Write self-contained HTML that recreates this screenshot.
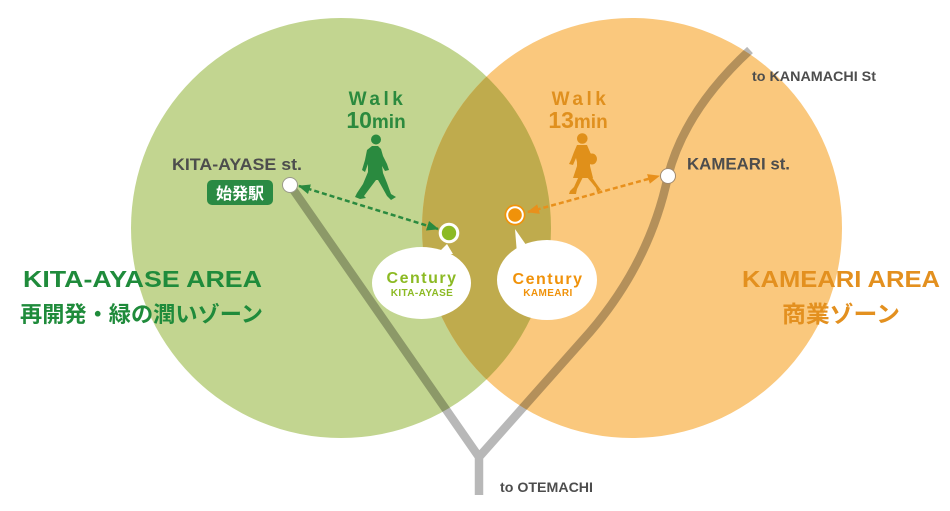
<!DOCTYPE html>
<html>
<head>
<meta charset="utf-8">
<style>
  html,body{margin:0;padding:0;background:#fff;}
  body{width:950px;height:511px;overflow:hidden;}
  svg{display:block;}
  .lat{font-family:"Liberation Sans",Arial,sans-serif;font-weight:bold;}
  .jp{font-family:"Liberation Sans","Noto Sans CJK JP",sans-serif;font-weight:bold;}
</style>
</head>
<body>
<svg width="950" height="511" viewBox="0 0 950 511" xmlns="http://www.w3.org/2000/svg">
  <defs>
    <clipPath id="cg"><circle cx="341" cy="228" r="210"/></clipPath>
    <marker id="ag" viewBox="0 0 12 10" refX="11" refY="5" markerUnits="userSpaceOnUse" markerWidth="12" markerHeight="10" orient="auto-start-reverse">
      <path d="M0,0 L12,5 L0,10 Z" fill="#2a8a3f"/>
    </marker>
    <marker id="ao" viewBox="0 0 12 10" refX="11" refY="5" markerUnits="userSpaceOnUse" markerWidth="12" markerHeight="10" orient="auto-start-reverse">
      <path d="M0,0 L12,5 L0,10 Z" fill="#e8901c"/>
    </marker>
  </defs>

  <!-- circles -->
  <circle cx="341" cy="228" r="210" fill="#c2d590"/>
  <circle cx="632" cy="228" r="210" fill="#fac87d"/>
  <circle cx="632" cy="228" r="210" fill="#bfab4d" clip-path="url(#cg)"/>

  <!-- rail lines -->
  <path d="M290,185 L479,457 L590,332 Q650,262 668,176 Q685,110 750,50 M479,457 L479,495"
        fill="none" stroke="#000" stroke-opacity="0.28" stroke-width="8.5" stroke-linejoin="round"/>

  <!-- dashed arrows -->
  <line x1="299" y1="186" x2="438" y2="229" stroke="#2a8a3f" stroke-width="2.5" stroke-dasharray="5 3" marker-start="url(#ag)" marker-end="url(#ag)"/>
  <line x1="528" y1="212" x2="659" y2="176" stroke="#e8901c" stroke-width="2.5" stroke-dasharray="5 3" marker-start="url(#ao)" marker-end="url(#ao)"/>

  <!-- stations -->
  <circle cx="290" cy="185" r="7.5" fill="#fff" stroke="#9a9a8a" stroke-width="1"/>
  <circle cx="668" cy="176" r="7.5" fill="#fff" stroke="#a08a70" stroke-width="1"/>

  <!-- Century dots -->
  <circle cx="449" cy="233" r="10.3" fill="#fff"/>
  <circle cx="449" cy="233" r="7.2" fill="#8cba24"/>
  <circle cx="515" cy="215" r="10.5" fill="#f0920a"/>
  <circle cx="515" cy="215" r="8.8" fill="#fff"/>
  <circle cx="515" cy="215" r="6.8" fill="#f0920a"/>

  <!-- bubbles -->
  <polygon points="447,244 437,254 453,254" fill="#fff"/>
  <ellipse cx="421.5" cy="283" rx="49.5" ry="36" fill="#fff"/>
  <polygon points="515,229 517,254 531,252" fill="#fff"/>
  <ellipse cx="547" cy="280" rx="50" ry="40" fill="#fff"/>

  <text x="422" y="283" text-anchor="middle" class="lat" font-size="16" letter-spacing="1.5" fill="#8cba24">Century</text>
  <text x="422" y="296" text-anchor="middle" class="lat" font-size="10" letter-spacing="0.4" fill="#8cba24">KITA-AYASE</text>
  <text x="548" y="284" text-anchor="middle" class="lat" font-size="16" letter-spacing="1.5" fill="#f0920a">Century</text>
  <text x="548" y="296" text-anchor="middle" class="lat" font-size="10" letter-spacing="0.4" fill="#f0920a">KAMEARI</text>

  <!-- walkers -->
  <g fill="#2a8a3f">
    <circle cx="376" cy="139.5" r="5"/>
    <path d="M372,146 L367,150 L365,160 L362,170 L365,172 L368,164 L368,172 L363,184 L357,193 L355,197 L360,199 L366,198 L364,196 L370,188 L376,180 L378,180 L382,187 L387,196 L391,200 L396,197 L391,194 L387,183 L383,173 L382,166 L385,171 L389,170 L387,164 L383,156 L381,149 L378,146 Z"/>
  </g>
  <g fill="#e0901a">
    <circle cx="582.3" cy="138.5" r="5.3"/>
    <path d="M577,145 L574,152 L571,160 L569,164 L573,165 L576,158 L577,162 L577,166 L573,178 L593,178 L590,166 L590,152 L587,145 Z"/>
    <path d="M579,176 L574,187 L570,191 L569,194 L576,194 L577,189 L583,177 Z"/>
    <path d="M586,176 L592,183 L596,188 L597,192 L601,190 L598,186 L591,176 Z"/>
    <ellipse cx="592" cy="159" rx="5" ry="5.5"/>
  </g>
  <line x1="586" y1="147" x2="591" y2="155" stroke="#e0901a" stroke-width="1.2"/>

  <!-- Walk texts -->
  <text x="377.5" y="105" text-anchor="middle" class="lat" font-size="19" letter-spacing="3.5" fill="#2b8a3e">Walk</text>
  <text x="376" y="128" text-anchor="middle" class="lat" fill="#2b8a3e"><tspan font-size="23">10</tspan><tspan font-size="19">min</tspan></text>
  <text x="580.5" y="105" text-anchor="middle" class="lat" font-size="19" letter-spacing="3.5" fill="#e0901e">Walk</text>
  <text x="578" y="128" text-anchor="middle" class="lat" fill="#e0901e"><tspan font-size="23">13</tspan><tspan font-size="19">min</tspan></text>

  <!-- station labels -->
  <text x="172" y="170" class="lat" font-size="16.5" fill="#4d4d4d" textLength="130" lengthAdjust="spacingAndGlyphs">KITA-AYASE st.</text>
  <rect x="207" y="180" width="66" height="25" rx="5" ry="5" fill="#2a8a43"/>
  <text x="240" y="199" text-anchor="middle" class="jp" font-size="16" fill="#fff">始発駅</text>
  <text x="687" y="169.5" class="lat" font-size="16.5" fill="#4d4d4d" textLength="103" lengthAdjust="spacingAndGlyphs">KAMEARI st.</text>
  <text x="752" y="81" class="lat" font-size="13.5" fill="#4d4d4d" textLength="124" lengthAdjust="spacingAndGlyphs">to KANAMACHI St</text>
  <text x="500" y="492" class="lat" font-size="14" fill="#4d4d4d" textLength="93" lengthAdjust="spacingAndGlyphs">to OTEMACHI</text>

  <!-- area labels -->
  <text x="23" y="287" class="lat" font-size="23" fill="#1f8b3b" textLength="239" lengthAdjust="spacingAndGlyphs">KITA-AYASE AREA</text>
  <text x="20" y="322" class="jp" font-size="22" fill="#1f8b3b" textLength="243" lengthAdjust="spacingAndGlyphs">再開発・緑の潤いゾーン</text>
  <text x="742" y="287" class="lat" font-size="23" fill="#e3901f" textLength="198" lengthAdjust="spacingAndGlyphs">KAMEARI AREA</text>
  <text x="782" y="322" class="jp" font-size="23" fill="#e3901f" textLength="118" lengthAdjust="spacingAndGlyphs">商業ゾーン</text>
</svg>
</body>
</html>
